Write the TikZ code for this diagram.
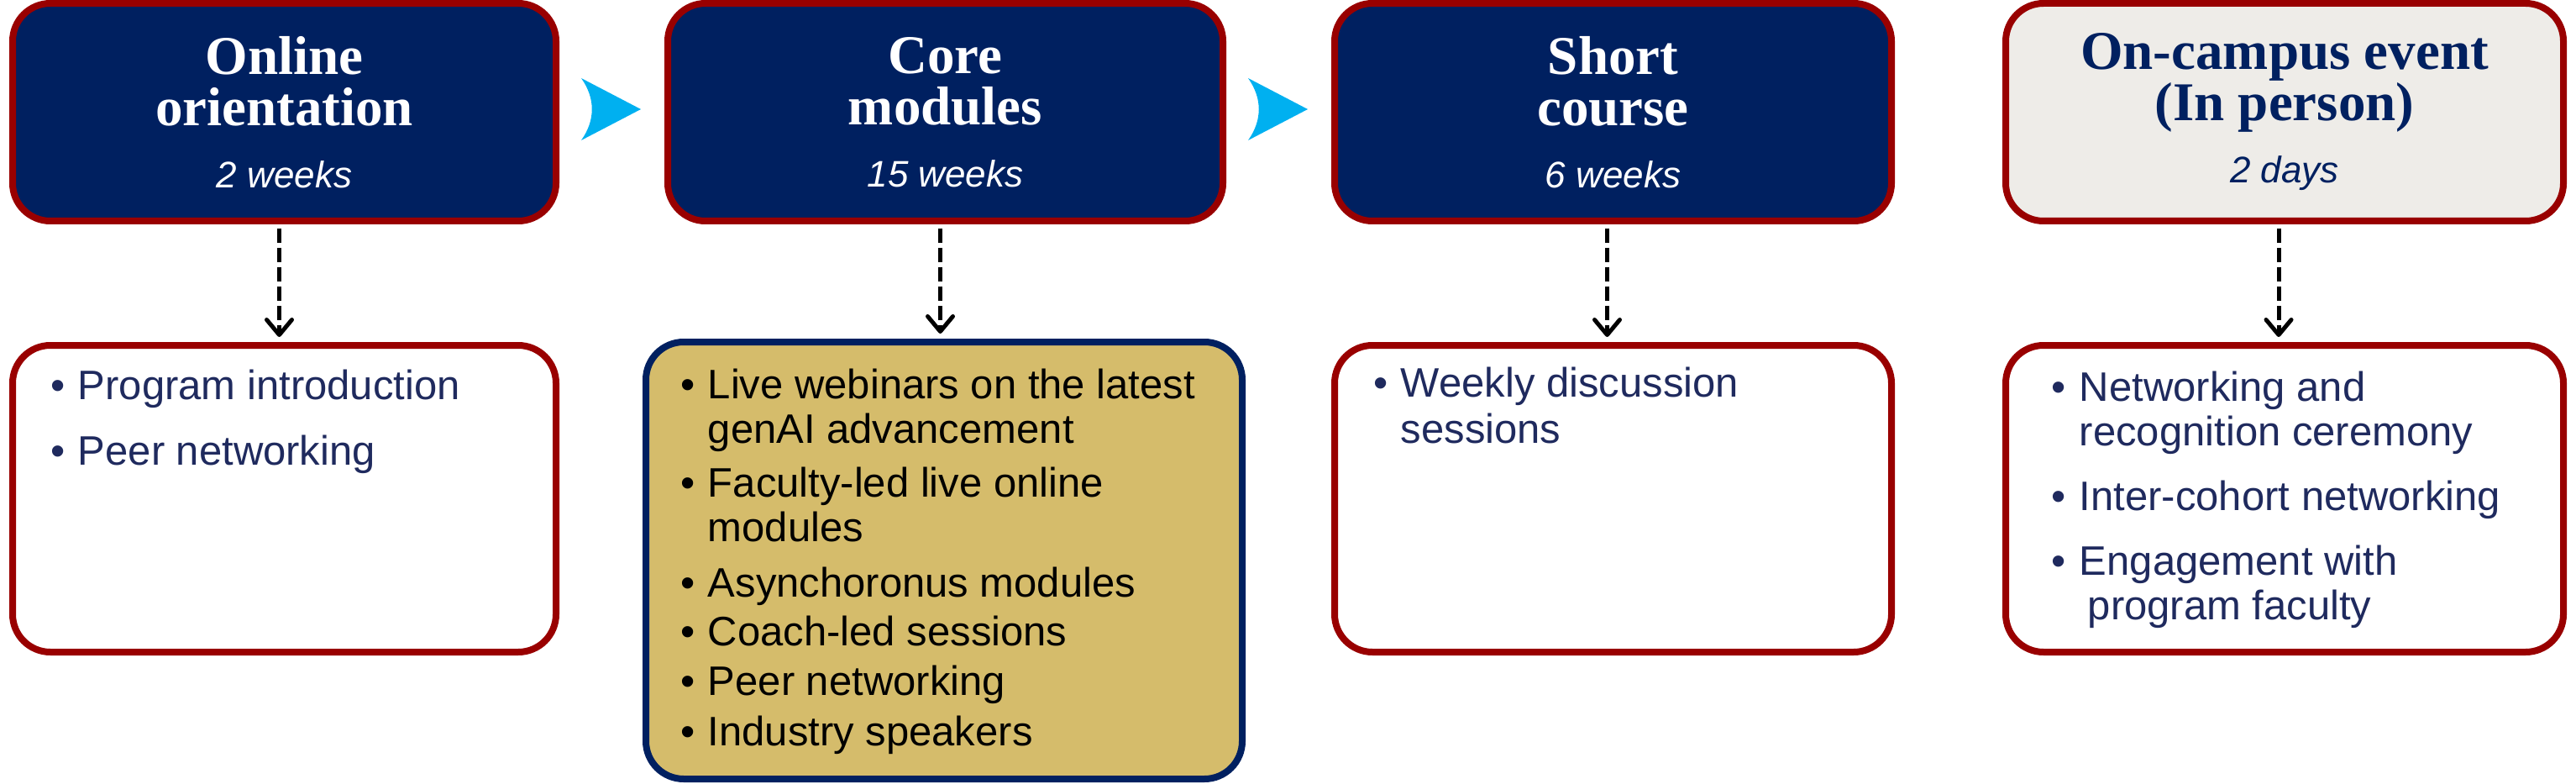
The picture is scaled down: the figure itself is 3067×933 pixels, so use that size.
\documentclass[tikz,border=0pt]{standalone}
\usepackage{fontspec}
\setmainfont{Liberation Serif}
\setsansfont{Liberation Sans}
\definecolor{StageBlue}{HTML}{002060}
\definecolor{StageRed}{HTML}{990000}
\definecolor{StageGrey}{HTML}{EEECE8}
\definecolor{ChevronBlue}{HTML}{00B0F0}
\definecolor{CoreGold}{HTML}{D5BC6B}
\definecolor{ListBlue}{HTML}{1F2A5E}
\usetikzlibrary{arrows.meta}

\newcommand{\bul}{\textbullet}
\newcommand{\duration}[1]{{\sffamily\mdseries\itshape\fontsize{44}{61}\selectfont #1}}

\tikzset{
    stage/.style={draw=StageRed, line width=8pt, rounded corners=45pt, fill=StageBlue,
        text=white, minimum height=259pt, align=center, inner sep=0pt,
        font=\fontsize{65}{61}\selectfont\bfseries},
    stagelight/.style={stage, fill=StageGrey, text=StageBlue},
    itembox/.style={draw=StageRed, line width=8pt, rounded corners=45pt, fill=white,
        minimum height=365pt},
    corebox/.style={draw=StageBlue, line width=8pt, rounded corners=45pt, fill=CoreGold,
        minimum width=710pt, minimum height=520pt},
    itemtext/.style={anchor=base west, inner sep=0pt, text=ListBlue,
        font=\sffamily\fontsize{49}{53}\selectfont},
    flow/.style={line width=5pt, dash pattern=on 17pt off 6pt,
        -{Straight Barb[length=18pt, width=30pt, line cap=round, line join=round]},
        shorten <=5pt, shorten >=6pt},
    chevron/.style={fill=ChevronBlue},
}

\begin{document}
\begin{tikzpicture}[x=1pt, y=-1pt]

    \useasboundingbox (0,0) rectangle (3067,933);

    % Etapas del programa
    \node [stage, minimum width=647pt] (online) at (338.5,133.5)
        {Online\\orientation\\[13pt]\duration{2 weeks}};
    \node [stage, minimum width=661pt] (core) at (1125.5,133.5)
        {Core\\modules\\[13pt]\duration{15 weeks}};
    \node [stage, minimum width=663pt] (short) at (1920.5,133.5)
        {Short\\course\\[13pt]\duration{6 weeks}};
    \node [stagelight, minimum width=664pt] (campus) at (2720,133.5)
        {On-campus event\\(In person)\\[13pt]\duration{2 days}};

    % Flechas entre etapas
    \fill [chevron] (692,93) -- (763,130) -- (692,167) .. controls (709,143) and (709,117) .. cycle;
    \fill [chevron] (1486,93) -- (1557,130) -- (1486,167) .. controls (1503,143) and (1503,117) .. cycle;

    % Cajas de contenidos
    \node [itembox, minimum width=647pt] (onlineitems) at (338.5,593.5) {};
    \node [corebox] (coreitems) at (1124,667) {};
    \node [itembox, minimum width=663pt] (shortitems) at (1920.5,593.5) {};
    \node [itembox, minimum width=664pt] (campusitems) at (2720,593.5) {};

    \node [itemtext] (onlinelist) at (60,475) {\begin{tabular}[t]{@{}l@{\hspace{15.5pt}}l@{}}
        \bul & Program introduction\\[25pt]
        \bul & Peer networking
    \end{tabular}};

    \node [itemtext, text=black] (corelist) at (810,474) {\begin{tabular}[t]{@{}l@{\hspace{15.5pt}}l@{}}
        \bul & Live webinars on the latest\\
             & genAI advancement\\[11pt]
        \bul & Faculty-led live online\\
             & modules\\[13pt]
        \bul & Asynchoronus modules\\[5pt]
        \bul & Coach-led sessions\\[6pt]
        \bul & Peer networking\\[7pt]
        \bul & Industry speakers
    \end{tabular}};

    \node [itemtext] (shortlist) at (1635,472) {\begin{tabular}[t]{@{}l@{\hspace{15.5pt}}l@{}}
        \bul & Weekly discussion\\[2pt]
             & sessions
    \end{tabular}};

    \node [itemtext] (campuslist) at (2442,477) {\begin{tabular}[t]{@{}l@{\hspace{16.5pt}}l@{}}
        \bul & Networking and\\
             & recognition ceremony\\[24pt]
        \bul & Inter-cohort networking\\[24pt]
        \bul & Engagement with\\
             & \hspace{10pt}program faculty
    \end{tabular}};

    % Flechas discontinuas hacia los contenidos
    \draw [flow] ([xshift=-6pt]online.south) -- ([xshift=-6pt]online.south |- onlineitems.north);
    \draw [flow] ([xshift=-6pt]core.south) -- ([xshift=-6pt]core.south |- coreitems.north);
    \draw [flow] ([xshift=-7pt]short.south) -- ([xshift=-7pt]short.south |- shortitems.north);
    \draw [flow] ([xshift=-7pt]campus.south) -- ([xshift=-7pt]campus.south |- campusitems.north);

\end{tikzpicture}
\end{document}
